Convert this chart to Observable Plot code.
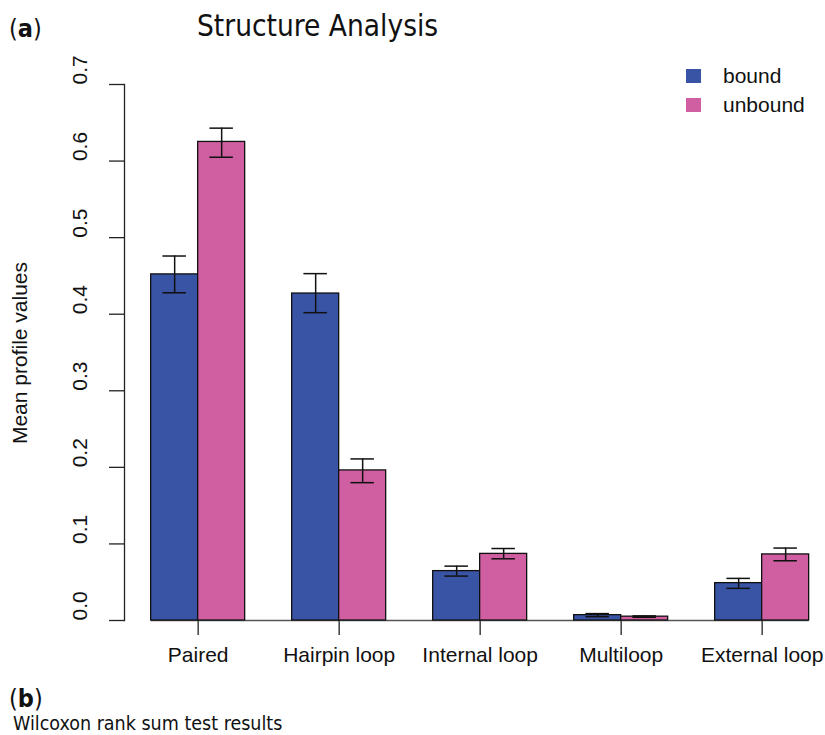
<!DOCTYPE html>
<html>
<head>
<meta charset="utf-8">
<script src="https://cdn.jsdelivr.net/npm/d3@7"></script>
<script src="https://cdn.jsdelivr.net/npm/@observablehq/plot@0.6"></script>
<style>
  html, body { margin: 0; padding: 0; background: white; }
  #wrap { position: relative; width: 825px; height: 735px; overflow: hidden; background: white; }
  #chart { position: absolute; left: 0; top: 0; }
  .abs { position: absolute; white-space: nowrap; color: #111; line-height: normal; }
  .title { font-family: "DejaVu Sans Condensed", "DejaVu Sans"; font-size: 29.5px; left: 197px; top: 9px; }
  .tag { font-family: "DejaVu Sans Condensed", "DejaVu Sans"; font-size: 25px; }
  .ylab { font-family: "Liberation Sans", Arial, sans-serif; font-size: 21px; left: 20px; top: 353px; transform: translate(-50%, -50%) rotate(-90deg); }
  .leg { font-family: "Liberation Sans", Arial, sans-serif; font-size: 21px; }
  .sw { position: absolute; width: 15px; height: 14px; }
  .cap { font-family: "DejaVu Sans Condensed", "DejaVu Sans"; font-size: 19.5px; line-height: 1; left: 13px; top: 714px; }
</style>
</head>
<body>
<div id="wrap">
  <div id="chart"></div>
  <div class="abs tag" style="left:9px; top:14px;">(<b>a</b>)</div>
  <div class="abs title">Structure Analysis</div>
  <div class="abs ylab">Mean profile values</div>
  <div id="legend"></div>
  <div class="abs tag" style="left:9px; top:684px;">(<b>b</b>)</div>
  <div class="abs cap">Wilcoxon rank sum test results</div>
</div>
<script>
const groups = ["Paired", "Hairpin loop", "Internal loop", "Multiloop", "External loop"];
const series = ["bound", "unbound"];
const seriesColors = ["#3953A5", "#CF5FA1"];
const boundMean = [0.452, 0.427, 0.0645, 0.007, 0.0488];
const boundLo   = [0.428, 0.402, 0.058, 0.005, 0.042];
const boundHi   = [0.476, 0.453, 0.071, 0.009, 0.055];
const unboundMean = [0.625, 0.196, 0.087, 0.005, 0.0863];
const unboundLo   = [0.605, 0.180, 0.0806, 0.0042, 0.078];
const unboundHi   = [0.643, 0.211, 0.094, 0.006, 0.0946];
const yTicks = [0, 0.1, 0.2, 0.3, 0.4, 0.5, 0.6, 0.7];

const seriesData = [
  {mean: boundMean, lo: boundLo, hi: boundHi},
  {mean: unboundMean, lo: unboundLo, hi: unboundHi}
];

const barW = 47;      // half of the group band
const capInset = 11.75;
const ink = "#111";

const seriesMarks = seriesData.flatMap((s, k) => {
  const left = k === 0;
  const insL = left ? 0 : barW, insR = left ? barW : 0;
  const dx = left ? -barW / 2 : barW / 2;
  return [
    Plot.barY(groups, {x: d => d, y: (d, i) => s.mean[i], fill: seriesColors[k], stroke: ink, strokeWidth: 1.3, insetLeft: insL, insetRight: insR}),
    Plot.ruleX(groups, {x: d => d, y1: (d, i) => s.lo[i], y2: (d, i) => s.hi[i], dx, stroke: ink, strokeWidth: 1.5}),
    Plot.tickY(groups, {x: d => d, y: (d, i) => s.lo[i], insetLeft: insL + capInset, insetRight: insR + capInset, stroke: ink, strokeWidth: 1.5}),
    Plot.tickY(groups, {x: d => d, y: (d, i) => s.hi[i], insetLeft: insL + capInset, insetRight: insR + capInset, stroke: ink, strokeWidth: 1.5})
  ];
});

const plot = Plot.plot({
  width: 825,
  height: 680,
  marginLeft: 124,
  marginRight: 0,
  marginTop: 84,
  marginBottom: 60,
  style: {fontFamily: "'Liberation Sans', Arial, sans-serif", fontSize: "21px", background: "white", color: ink},
  x: {domain: groups, paddingInner: 1/3, paddingOuter: 0.1525, align: 0.62, round: false, label: null},
  y: {domain: [0, 0.7], label: null},
  marks: [
    Plot.axisY({ticks: yTicks, tickSize: 15, tickFormat: () => "", label: null, stroke: "#222", strokeWidth: 1.3, strokeOpacity: 1}),
    Plot.frame({anchor: "left", stroke: "#222", strokeWidth: 1.3}),
    Plot.text(yTicks, {y: d => d, text: d => d3.format(".1f")(d), frameAnchor: "left", dx: -44, rotate: -90, fill: ink}),
    Plot.axisX({anchor: "bottom", tickSize: 15, tickPadding: 12, label: null, stroke: "#222", strokeWidth: 1.3, strokeOpacity: 1}),
    Plot.ruleY([0], {y: d => d, x1: () => groups[0], x2: () => groups[groups.length - 1], stroke: "#555", strokeWidth: 1.3}),
    ...seriesMarks
  ]
});
document.getElementById("chart").appendChild(plot);

const legend = document.getElementById("legend");
series.forEach((s, i) => {
  const sw = document.createElement("div");
  sw.className = "sw";
  sw.style.left = "686px";
  sw.style.top = (69 + i * 29) + "px";
  sw.style.background = seriesColors[i];
  legend.appendChild(sw);
  const t = document.createElement("div");
  t.className = "abs leg";
  t.style.left = "723px";
  t.style.top = (64 + i * 29) + "px";
  t.textContent = s;
  legend.appendChild(t);
});
</script>
</body>
</html>
